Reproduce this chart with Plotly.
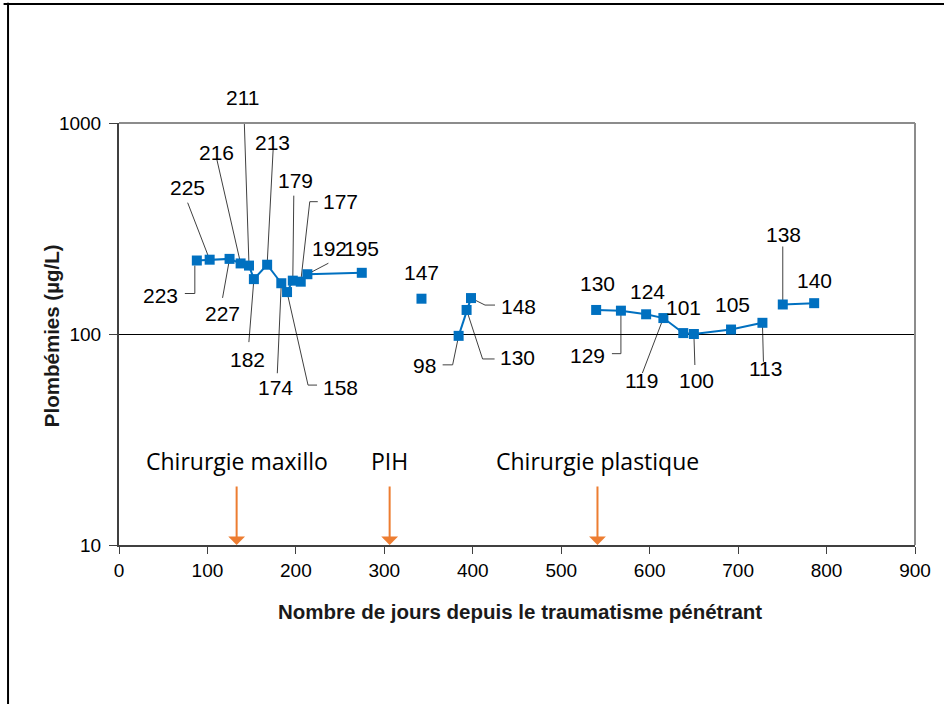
import math
import plotly.graph_objects as go

# ---- data ----
days = [88, 102.5, 125, 137.5, 147, 152.5, 167.5, 183.5, 190, 196.5, 205.5, 213, 274.5,
        342,
        384, 393, 398,
        539.5, 567.5, 596, 615.5, 638, 650, 692, 727.5,
        750.5, 786]
lead = [223, 225, 227, 216, 211, 182, 213, 174, 158, 179, 177, 192, 195,
        147,
        98, 130, 148,
        130, 129, 124, 119, 101, 100, 105, 113,
        138, 140]
series_group = [1]*13 + [2] + [3]*3 + [4]*8 + [5]*2

events = ["Chirurgie maxillo", "PIH", "Chirurgie plastique"]
event_days = [133, 306, 541]

x_ticks = [0, 100, 200, 300, 400, 500, 600, 700, 800, 900]
y_ticks = [10, 100, 1000]

# ---- label placement (pixel offsets from each point; dy positive = down) ----
label_pos = [(-36, 35), (-22, -72), (-7, 55), (-24, -111), (-7, -168), (-6, 80), (5, -122),
             (-6, 104), (53, 95), (3, -100), (40, -80), (22, -26), (0, -24),
             (0, -26),
             (-34, 30), (51, 48), (47, 8),
             (1, -26), (-33, 45), (1, -23), (-22, 62), (0, -26), (3, 46), (1, -25), (3, 46),
             (1, -70), (0, -23)]
leader_paths = [[(-2, 5), (-2, 33), (-12, 33)], [(0, 0), (-22, -57)], [(0, 0), (-7, 39)],
                [(0, 0), (-24, -105)], [(0, 0), (-5, -152)], [(0, 0), (-5, 63)],
                [(0, 0), (6, -115)], [(0, 0), (-4, 90)], [(0, 0), (21, 93), (30, 93)],
                [(0, 0), (1, -85)], [(0, 0), (9, -80), (17, -80)], [(0, 0), (21, -11)], None,
                None,
                [(0, 0), (-6, 29), (-16, 29)], [(0, 0), (16, 49), (28, 49)],
                [(0, 0), (14, 7), (24, 7)],
                None, [(0, 0), (0, 43), (-9, 43)], None, [(0, 0), (-21, 55)], None,
                [(0, 0), (1, 31)], None, [(0, 0), (1, 39)],
                [(0, 0), (0, -58)], None]

blue = "#0070C0"
orange = "#ED7D31"
font_fam = "Liberation Sans, Arial, sans-serif"

fig = go.Figure()
for g in sorted(set(series_group)):
    xs = [d for d, s in zip(days, series_group) if s == g]
    ys = [v for v, s in zip(lead, series_group) if s == g]
    fig.add_trace(go.Scatter(
        x=xs, y=ys, mode="lines+markers",
        line=dict(color=blue, width=2),
        marker=dict(symbol="square", size=10, color=blue),
        showlegend=False, hoverinfo="x+y"))

annotations = []
shapes = []
for d, v, lp, path in zip(days, lead, label_pos, leader_paths):
    annotations.append(dict(x=d, y=math.log10(v), text=str(v), showarrow=False,
                            xshift=lp[0], yshift=-lp[1],
                            font=dict(size=21, color="#000000", family=font_fam)))
    if path:
        p = "M" + " L".join(f"{dx},{-dy}" for dx, dy in path)
        shapes.append(dict(type="path", xref="x", yref="y", xsizemode="pixel", ysizemode="pixel",
                           xanchor=d, yanchor=v, path=p, layer="below",
                           line=dict(color="#404040", width=1)))

for name, d in zip(events, event_days):
    annotations.append(dict(x=d, y=1, text="", showarrow=True, ax=0, ay=-60,
                            arrowhead=1, arrowsize=1.4, arrowwidth=2, arrowcolor=orange))
    annotations.append(dict(x=d, y=1.40, text=name, showarrow=False,
                            font=dict(size=23, color="#000000", family="Open Sans, Noto Sans, sans-serif")))

# axis titles
annotations.append(dict(xref="paper", yref="paper", x=0.504, y=-0.158, yanchor="middle",
                        text="<b>Nombre de jours depuis le traumatisme pénétrant</b>",
                        showarrow=False, font=dict(size=20.5, color="#1a1a1a", family=font_fam)))
annotations.append(dict(xref="paper", yref="paper", x=-0.0854, y=0.495, xanchor="center", yanchor="middle",
                        text="<b>Plombémies (µg/L)</b>", textangle=-90,
                        showarrow=False, font=dict(size=20.5, color="#1a1a1a", family=font_fam)))

shapes += [
    dict(type="line", xref="paper", yref="paper", x0=0, x1=1, y0=1, y1=1,
         line=dict(color="#8C8C8C", width=2), layer="above"),
    dict(type="line", xref="paper", yref="paper", x0=1, x1=1, y0=0, y1=1,
         line=dict(color="#8C8C8C", width=2), layer="above"),
    dict(type="line", xref="paper", yref="paper", x0=-0.145, x1=1.05, y0=1.2820, y1=1.2820,
         line=dict(color="#000000", width=2)),
    dict(type="line", xref="paper", yref="paper", x0=-0.1394, x1=-0.1394, y0=-0.4, y1=1.285,
         line=dict(color="#000000", width=2)),
]

fig.update_layout(
    width=944, height=704,
    margin=dict(l=119, r=29, t=123, b=159),
    paper_bgcolor="white", plot_bgcolor="white",
    font=dict(family=font_fam, color="#000000"),
    annotations=annotations, shapes=shapes,
    xaxis=dict(range=[0, 900], tickvals=x_ticks, showgrid=False, zeroline=False,
               showline=True, linecolor="#404040", linewidth=2,
               ticks="outside", ticklen=7, tickcolor="#404040", tickwidth=1,
               tickfont=dict(size=19, color="#000000")),
    yaxis=dict(type="log", range=[1, 3], tickvals=y_ticks, ticktext=[str(t) for t in y_ticks],
               showgrid=True, gridcolor="#000000", gridwidth=1, zeroline=False,
               showline=True, linecolor="#404040", linewidth=2,
               ticks="outside", ticklen=8, tickcolor="#404040", tickwidth=1,
               tickfont=dict(size=19, color="#000000"), ticklabelstandoff=4),
)

fig.write_html("out.html", config={"displayModeBar": False},
               post_script="document.body.style.margin='0';")
